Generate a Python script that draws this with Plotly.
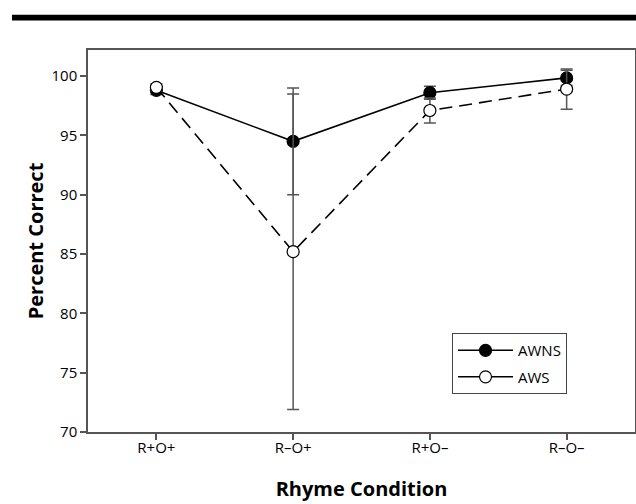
import plotly.graph_objects as go

categories = ["R+O+", "R\u2013O+", "R+O\u2013", "R\u2013O\u2013"]
awns_values = [98.8, 94.5, 98.6, 99.85]
awns_err = [0.35, 4.5, 0.55, 0.65]
aws_values = [99.05, 85.2, 97.1, 98.9]
aws_err = [0.3, 13.3, 1.05, 1.7]

y_ticks = [70, 75, 80, 85, 90, 95, 100]

FONT = "Open Sans"
x_idx = list(range(len(categories)))

fig = go.Figure()
fig.add_trace(go.Scatter(
    x=x_idx, y=awns_values, name="AWNS", mode="lines+markers", showlegend=False,
    line=dict(color="black", width=1.6),
    marker=dict(symbol="circle", size=12, color="black", line=dict(color="black", width=1.2)),
    error_y=dict(type="data", array=awns_err, visible=True, color="#555555", thickness=1.5, width=6),
))
fig.add_trace(go.Scatter(
    x=x_idx, y=aws_values, name="AWS", mode="lines+markers", showlegend=False,
    line=dict(color="black", width=1.6, dash="13px,7px"),
    marker=dict(symbol="circle", size=12, color="white", line=dict(color="black", width=1.2)),
    error_y=dict(type="data", array=aws_err, visible=True, color="#555555", thickness=1.5, width=6),
))
# legend-only entries (solid line symbols, as in the original legend)
fig.add_trace(go.Scatter(
    x=[None], y=[None], name="AWNS", mode="lines+markers", legendgroup="a",
    line=dict(color="black", width=1.6),
    marker=dict(symbol="circle", size=12, color="black", line=dict(color="black", width=1.2)),
))
fig.add_trace(go.Scatter(
    x=[None], y=[None], name="AWS", mode="lines+markers", legendgroup="b",
    line=dict(color="black", width=1.6),
    marker=dict(symbol="circle", size=12, color="white", line=dict(color="black", width=1.2)),
))

fig.update_layout(
    width=636, height=504,
    margin=dict(l=88, r=1, t=50, b=72, autoexpand=False),
    paper_bgcolor="white", plot_bgcolor="white",
    font=dict(family=FONT, color="black", size=15),
    showlegend=True,
    legend=dict(
        x=0.6655, y=0.259, xanchor="left", yanchor="top",
        bordercolor="#444444", borderwidth=1, bgcolor="white",
        traceorder="grouped", tracegroupgap=4,
        font=dict(size=15, family=FONT),
        itemwidth=55,
    ),
    xaxis=dict(
        range=[-0.5, 3.5], tickmode="array", tickvals=x_idx, ticktext=categories,
        showline=True, linecolor="#555555", linewidth=1.5, mirror=True,
        ticks="outside", ticklen=6, tickcolor="#555555", tickwidth=1.5,
        showgrid=False, zeroline=False, automargin=False,
        tickfont=dict(size=15, family=FONT), ticklabelstandoff=-5,
        title=dict(text="<b>Rhyme Condition</b>", font=dict(size=20, family=FONT), standoff=26),
    ),
    yaxis=dict(
        range=[70, 102.2], tickmode="array", tickvals=y_ticks,
        showline=True, linecolor="#555555", linewidth=1.5, mirror=True,
        ticks="outside", ticklen=6, tickcolor="#555555", tickwidth=1.5,
        showgrid=False, zeroline=False, automargin=False,
        tickfont=dict(size=15, family=FONT),
        title=dict(text="<b>Percent Correct</b>", font=dict(size=20, family=FONT), standoff=3),
    ),
    shapes=[dict(
        type="rect", xref="paper", yref="paper",
        x0=-0.139, x1=1.005, y0=1.0775, y1=1.0924,
        fillcolor="black", line=dict(width=0),
    )],
)

fig.write_html("out.html", config={"displayModeBar": False},
               post_script="document.body.style.margin='0';document.body.style.overflow='hidden';")
